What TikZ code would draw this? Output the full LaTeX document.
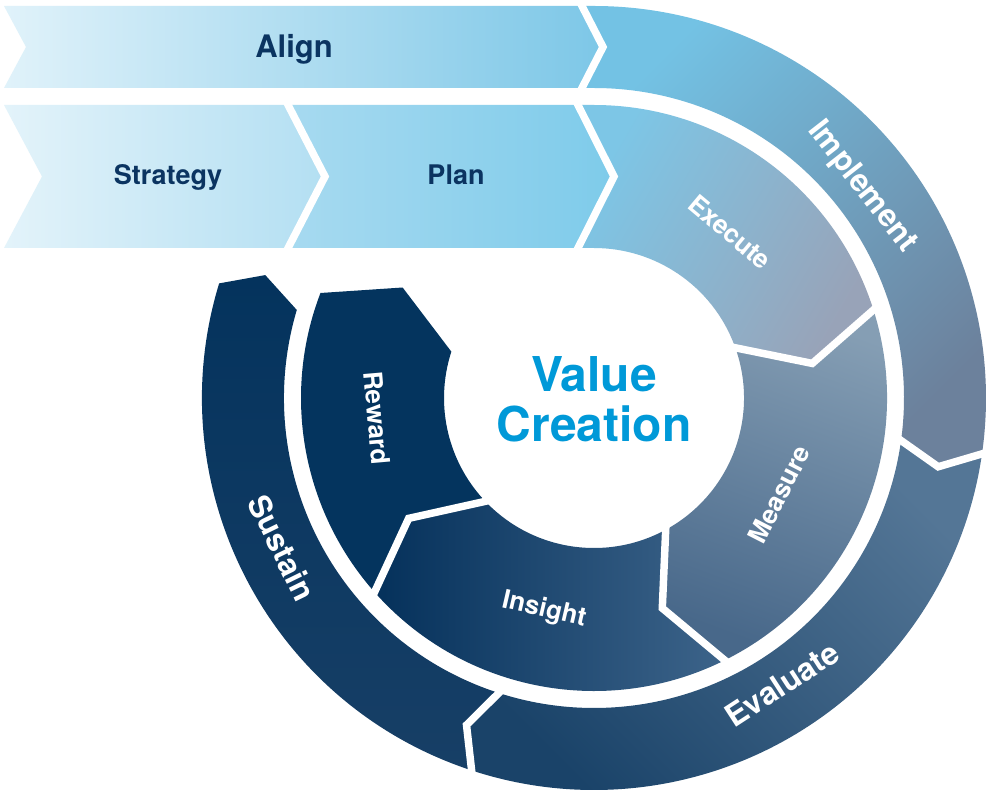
\documentclass[tikz,border=0pt]{standalone}
\usepackage{fontspec}
\setmainfont{TeX Gyre Heros}
\usepackage{xcolor}

\definecolor{navy}{HTML}{0B3461}
\definecolor{vcblue}{HTML}{0099D8}
\definecolor{alignL}{HTML}{E0F2FA}
\definecolor{alignR}{HTML}{7DC7E7}
\definecolor{stratL}{HTML}{E3F3FA}
\definecolor{stratR}{HTML}{B3DFF2}
\definecolor{planL}{HTML}{A7DAF0}
\definecolor{planR}{HTML}{7ECBEA}
\definecolor{implA}{HTML}{73C2E4}
\definecolor{implB}{HTML}{6C819C}
\definecolor{execA}{HTML}{7DC6E6}
\definecolor{execB}{HTML}{98A3B8}
\definecolor{measA}{HTML}{859EB4}
\definecolor{measB}{HTML}{48688A}
\definecolor{insA}{HTML}{05315B}
\definecolor{insB}{HTML}{3D648A}
\definecolor{rewC}{HTML}{04345E}
\definecolor{evalA}{HTML}{1A4369}
\definecolor{evalB}{HTML}{547696}
\definecolor{susA}{HTML}{04335D}
\definecolor{susB}{HTML}{173F66}

\begin{document}
\begin{tikzpicture}[x=0.75pt,y=0.75pt,yscale=-1,xscale=1,
  gap/.style={white, line width=5.6pt, line join=miter, miter limit=20},
  bandlbl/.style={navy, inner sep=0pt, anchor=base, font=\fontsize{20.25}{22}\selectfont\bfseries},
  outerlbl/.style={white, inner sep=0pt, font=\fontsize{23.5}{25}\selectfont\bfseries},
  innerlbl/.style={white, inner sep=0pt, font=\fontsize{19.5}{21}\selectfont\bfseries}]
        \fill[white] (0,0) rectangle (987,791);
        \useasboundingbox (0,0) rectangle (987,791);

        %Shape: Chevron [id:align]
        \shade[left color=alignL, right color=alignR] (4,6) -- (582,6) -- (603,47) -- (582,88) -- (4,88) -- (26,47) -- cycle;
        %Shape: Chevron [id:strategy]
        \shade[left color=stratL, right color=stratR] (4,105) -- (288,105) -- (325,176.5) -- (288,248) -- (4,248) -- (42,176.5) -- cycle;
        %Shape: Chevron [id:plan]
        \shade[left color=planL, right color=planR] (288,105) -- (578,105) -- (614,176.5) -- (578,248) -- (288,248) -- (325,176.5) -- cycle;

        \begin{scope}[shift={(594,398)}]
        %Shape: Outer ring [id:implement]
        \shade[top color=implA, bottom color=implB, shading angle=45] (-12,-392) -- (-90:392) arc[start angle=-90, end angle=7.8, radius=392] -- (11.3:351) -- (7.3:310) arc[start angle=7.3, end angle=-90, radius=310] -- (-12,-310) -- (9,-351) -- cycle;
        %Shape: Outer ring [id:evaluate]
        \shade[top color=evalB, bottom color=evalA, shading angle=-45] (7.3:310) -- (11.3:351) -- (7.8:392) arc[start angle=7.8, end angle=107.8, radius=392] -- (111.3:351) -- (107.3:310) arc[start angle=107.3, end angle=7.3, radius=310] -- cycle;
        %Shape: Outer ring [id:sustain]
        \shade[top color=susA, bottom color=susB] (107.3:310) -- (111.3:351) -- (107.8:392) arc[start angle=107.8, end angle=197, radius=392] -- (200.5:351) -- (196.5:310) arc[start angle=196.5, end angle=107.3, radius=310] -- cycle;

        %Shape: Inner ring [id:execute]
        \shade[top color=execA, bottom color=execB, shading angle=60] (-16,-293) -- (-90:293) arc[start angle=-90, end angle=-18, radius=293] -- (-9:221) -- (-21:150) arc[start angle=-21, end angle=-90, radius=150] -- (-16,-150) -- (20,-221.5) -- cycle;
        %Shape: Inner ring [id:measure]
        \shade[top color=measA, bottom color=measB, shading angle=-20] (-21:150) -- (-9:221) -- (-18:293) arc[start angle=-18, end angle=63, radius=293] -- (72:221) -- (60:150) arc[start angle=60, end angle=-21, radius=150] -- cycle;
        %Shape: Inner ring [id:insight]
        \shade[left color=insA, right color=insB] (60:150) -- (72:221) -- (63:293) arc[start angle=63, end angle=138, radius=293] -- (147:221) -- (135:150) arc[start angle=135, end angle=60, radius=150] -- cycle;
        %Shape: Inner ring [id:reward]
        \fill[rewC] (135:150) -- (147:221) -- (138:293) arc[start angle=138, end angle=201, radius=293] -- (210:221) -- (198:150) arc[start angle=198, end angle=135, radius=150] -- cycle;

        %Straight Lines [id:gaps]
        \draw[gap] (-21:144) -- (-9:221) -- (-18:299);
        \draw[gap] (60:144) -- (72:221) -- (63:299);
        \draw[gap] (135:144) -- (147:221) -- (138:299);
        \draw[gap] (7.3:304) -- (11.3:351) -- (7.8:398);
        \draw[gap] (107.3:304) -- (111.3:351) -- (107.8:398);
        \end{scope}

        \draw[gap] (579.4,1) -- (603,47) -- (579.4,93);
        \draw[gap] (285.5,100) -- (325,176.5) -- (285.5,253);
        \draw[gap] (575.5,100) -- (614,176.5) -- (575.5,253);

        % Text Node
        \node[bandlbl, font=\fontsize{23.25}{25}\selectfont\bfseries] (align) at (294,58) {Align};
        % Text Node
        \node[bandlbl] (strategy) at (168,185) {Strategy};
        % Text Node
        \node[bandlbl] (plan) at (456,185) {Plan};
        % Text Node
        \node[vcblue, inner sep=0pt, align=center, font=\fontsize{36}{37.5}\selectfont\bfseries] (value) at (594,399.5) {Value\\Creation};
        % Text Node
        \node[outerlbl, rotate=-52] (implement) at (862,187) {Implement};
        % Text Node
        \node[outerlbl, rotate=33] (evaluate) at (782,684) {Evaluate};
        % Text Node
        \node[outerlbl, rotate=-64] (sustain) at (282,548) {Sustain};
        % Text Node
        \node[innerlbl, rotate=-40] (execute) at (730,232) {Execute};
        % Text Node
        \node[innerlbl, rotate=63] (measure) at (779,494) {Measure};
        % Text Node
        \node[innerlbl, rotate=-13] (insight) at (544,610) {Insight};
        % Text Node
        \node[innerlbl, rotate=-85] (reward) at (377,418) {Reward};

\end{tikzpicture}
\end{document}
